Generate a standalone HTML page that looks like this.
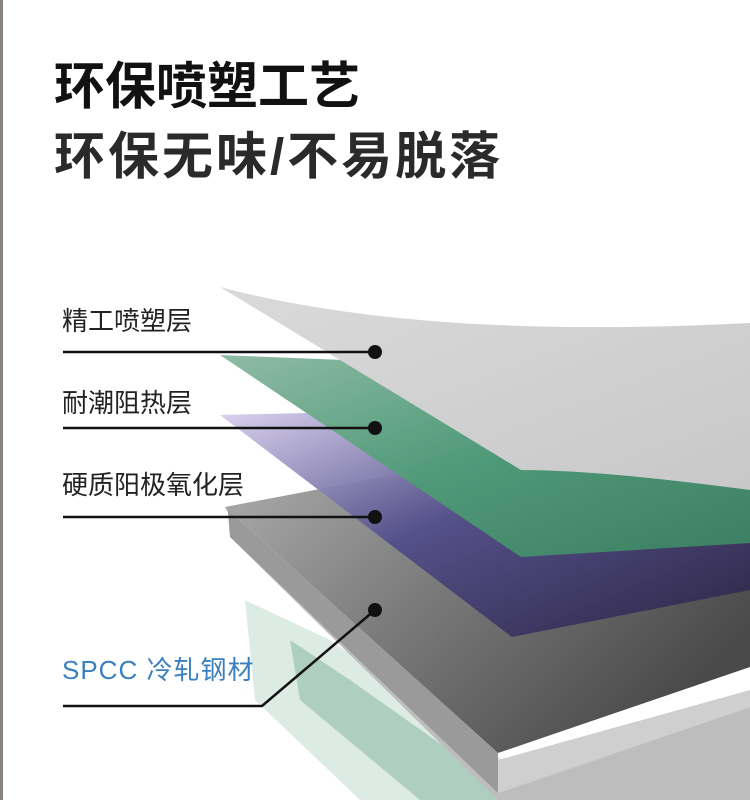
<!DOCTYPE html>
<html><head><meta charset="utf-8"><style>
html,body{margin:0;padding:0;width:750px;height:800px;overflow:hidden;background:#fff}
.t{position:absolute;font-family:"Liberation Sans","Noto Sans CJK SC",sans-serif;white-space:nowrap}
</style></head><body>
<svg width="750" height="800" style="position:absolute;left:0;top:0">
<defs>
<linearGradient id="g1" x1="0" y1="0" x2="1" y2="1"><stop offset="0" stop-color="#dadada"/><stop offset="1" stop-color="#c8c8c8"/></linearGradient>
<linearGradient id="gr" x1="0" y1="0" x2="1" y2="1"><stop offset="0" stop-color="#8fbba6"/><stop offset="0.5" stop-color="#4f9a78"/><stop offset="1" stop-color="#3c7e62"/></linearGradient>
<linearGradient id="pu" x1="0" y1="0" x2="1" y2="1"><stop offset="0" stop-color="#d8cfee"/><stop offset="0.45" stop-color="#524e8a"/><stop offset="1" stop-color="#2c2445"/></linearGradient>
<linearGradient id="st" x1="0" y1="0" x2="1" y2="0.6"><stop offset="0" stop-color="#b0b0b0"/><stop offset="0.5" stop-color="#7a7a7a"/><stop offset="1" stop-color="#4a4a4a"/></linearGradient>
</defs>
<rect x="0" y="0" width="3" height="800" fill="#8a8580"/>
<polygon points="245,600 330,640 560,800 360,800 255,700" fill="#cfe2da" opacity="0.7"/>
<polygon points="290,640 350,680 520,800 420,800 300,700" fill="#9ac3b0" opacity="0.7"/>
<polygon points="230,537 498,793 750,707 750,800 498,800" fill="#bdbdbd"/>
<polygon points="230,537 498,793 750,707 750,690 498,760 228,512" fill="#cfcfcf"/>
<polygon points="225,507 420,470 750,440 750,667 498,753" fill="url(#st)"/>
<polygon points="225,507 228,512 230,537 498,793 498,753" fill="#9a9a9a"/>
<polygon points="220,415 306,413 600,500 750,520 750,590 512,637" fill="url(#pu)" opacity="0.95"/>
<polygon points="220,355 344,360 600,460 750,470 750,543 521,557" fill="url(#gr)"/>
<path d="M220,287 Q420,340 750,323 L750,490 Q600,470 521,470 Z" fill="url(#g1)"/>
<g stroke="#111" stroke-width="2.5" fill="none">
<line x1="63" y1="352" x2="375" y2="352"/>
<line x1="63" y1="428" x2="375" y2="428"/>
<line x1="63" y1="517" x2="375" y2="517"/>
<polyline points="63,706 262,706 375,610"/>
</g>
<g fill="#111">
<circle cx="375" cy="352" r="7"/><circle cx="375" cy="428" r="7"/><circle cx="375" cy="517" r="7"/><circle cx="375" cy="610" r="7"/>
</g>
</svg>
<div class="t" style="left:54px;top:57px;font-size:51px;font-weight:bold;color:#111;line-height:60px">环保喷塑工艺</div>
<div class="t" style="left:54px;top:127px;font-size:51px;font-weight:bold;color:#2a2a2a;line-height:60px;letter-spacing:3px">环保无味/不易脱落</div>
<div class="t" style="left:62px;top:306px;font-size:26px;color:#222;line-height:30px">精工喷塑层</div>
<div class="t" style="left:62px;top:388px;font-size:26px;color:#222;line-height:30px">耐潮阻热层</div>
<div class="t" style="left:62px;top:470px;font-size:26px;color:#222;line-height:30px">硬质阳极氧化层</div>
<div class="t" style="left:62px;top:655px;font-size:26px;color:#3a7fbf;line-height:30px;letter-spacing:1px">SPCC 冷轧钢材</div>
</body></html>
